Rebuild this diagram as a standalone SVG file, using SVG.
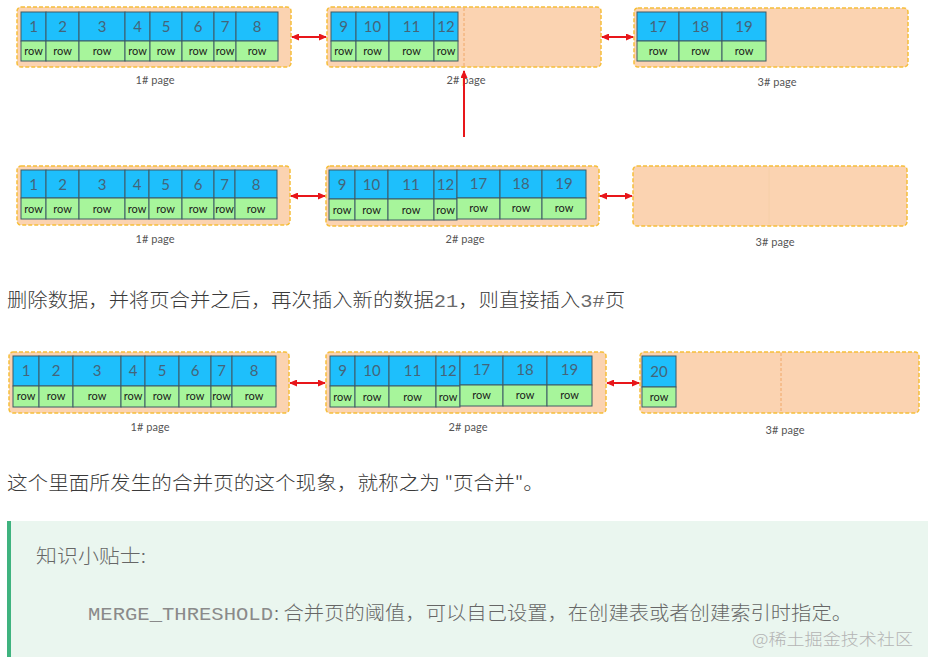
<svg xmlns="http://www.w3.org/2000/svg" width="932" height="664" viewBox="0 0 932 664">
<style>
.page{fill:#fbd3b1;stroke:#f6bf3a;stroke-width:1.5;stroke-dasharray:4 2}
.div{stroke:#f0a868;stroke-width:1;stroke-dasharray:3 2;fill:none}
.divs{stroke:#f6cfa8;stroke-width:1;fill:none}
.b{fill:#1ebffc;stroke:#3e5a66;stroke-width:1}
.g{fill:#a7f59b;stroke:#3e5a66;stroke-width:1}
.n{font-family:Lato,"Open Sans",sans-serif;font-size:15px;fill:#44657a;text-anchor:middle}
.r{font-family:Lato,"Open Sans",sans-serif;font-size:11px;fill:#1a1a1a;text-anchor:middle}
.lbl{font-family:Lato,"Liberation Sans",sans-serif;font-size:11px;fill:#555;text-anchor:middle}
.arr{stroke:#e8161a;stroke-width:2;fill:none;marker-start:url(#ah);marker-end:url(#ah)}
.arr1{stroke:#e8161a;stroke-width:2;fill:none;marker-end:url(#ah)}
.txt{font-family:"Noto Sans CJK SC","Noto Sans",sans-serif;font-size:19px;fill:#3a3a3a;font-weight:300}
.tip{font-family:"Noto Sans CJK SC","Noto Sans",sans-serif;font-size:19px;fill:#666;font-weight:300}
.mono{font-family:"Liberation Mono","DejaVu Sans Mono",monospace;font-weight:400;fill:#6a6a6a}
.monot{font-family:"Liberation Mono","DejaVu Sans Mono",monospace;font-weight:400;fill:#8a8a8a;font-size:18px}
</style>
<defs>
<marker id="ah" viewBox="0 0 8 7" refX="7" refY="3.5" markerUnits="userSpaceOnUse" markerWidth="8" markerHeight="7" orient="auto-start-reverse">
<path d="M0,0 L8,3.5 L0,7 z" fill="#e8161a"/>
</marker>
</defs>
<rect width="932" height="664" fill="#ffffff"/>

<!-- Row 1 -->
<g id="r1p1">
<rect class="page" x="17" y="7" width="274" height="60" rx="4"/>
<rect class="b" x="21" y="12" width="25" height="29"/><rect class="g" x="21" y="41" width="25" height="20"/>
<rect class="b" x="46" y="12" width="33" height="29"/><rect class="g" x="46" y="41" width="33" height="20"/>
<rect class="b" x="79" y="12" width="46" height="29"/><rect class="g" x="79" y="41" width="46" height="20"/>
<rect class="b" x="125" y="12" width="25" height="29"/><rect class="g" x="125" y="41" width="25" height="20"/>
<rect class="b" x="150" y="12" width="32" height="29"/><rect class="g" x="150" y="41" width="32" height="20"/>
<rect class="b" x="182" y="12" width="32" height="29"/><rect class="g" x="182" y="41" width="32" height="20"/>
<rect class="b" x="214" y="12" width="22" height="29"/><rect class="g" x="214" y="41" width="22" height="20"/>
<rect class="b" x="236" y="12" width="42" height="29"/><rect class="g" x="236" y="41" width="42" height="20"/>
<text class="n" x="33.5" y="32">1</text><text class="n" x="62.5" y="32">2</text><text class="n" x="102" y="32">3</text><text class="n" x="137.5" y="32">4</text><text class="n" x="166" y="32">5</text><text class="n" x="198" y="32">6</text><text class="n" x="225" y="32">7</text><text class="n" x="257" y="32">8</text>
<text class="r" x="33.5" y="55">row</text><text class="r" x="62.5" y="55">row</text><text class="r" x="102" y="55">row</text><text class="r" x="137.5" y="55">row</text><text class="r" x="166" y="55">row</text><text class="r" x="198" y="55">row</text><text class="r" x="225" y="55">row</text><text class="r" x="257" y="55">row</text>
<text class="lbl" x="155" y="84" textLength="39">1# page</text>
</g>
<g id="r1p2">
<rect class="page" x="327" y="7" width="274" height="60" rx="4"/>
<line class="div" x1="464" y1="8" x2="464" y2="66"/>
<rect class="b" x="331" y="12" width="25" height="29"/><rect class="g" x="331" y="41" width="25" height="20"/>
<rect class="b" x="356" y="12" width="33" height="29"/><rect class="g" x="356" y="41" width="33" height="20"/>
<rect class="b" x="389" y="12" width="45" height="29"/><rect class="g" x="389" y="41" width="45" height="20"/>
<rect class="b" x="434" y="12" width="24" height="29"/><rect class="g" x="434" y="41" width="24" height="20"/>
<text class="n" x="343.5" y="32">9</text><text class="n" x="372.5" y="32">10</text><text class="n" x="411.5" y="32">11</text><text class="n" x="446" y="32">12</text>
<text class="r" x="343.5" y="55">row</text><text class="r" x="372.5" y="55">row</text><text class="r" x="411.5" y="55">row</text><text class="r" x="446" y="55">row</text>
<text class="lbl" x="466" y="84" textLength="39">2# page</text>
</g>
<g id="r1p3">
<rect class="page" x="634" y="8" width="274" height="59" rx="4"/>
<rect class="b" x="637" y="12" width="42" height="29"/><rect class="g" x="637" y="41" width="42" height="20"/>
<rect class="b" x="679" y="12" width="43" height="29"/><rect class="g" x="679" y="41" width="43" height="20"/>
<rect class="b" x="722" y="12" width="44" height="29"/><rect class="g" x="722" y="41" width="44" height="20"/>
<text class="n" x="658" y="32">17</text><text class="n" x="700.5" y="32">18</text><text class="n" x="744" y="32">19</text>
<text class="r" x="658" y="55">row</text><text class="r" x="700.5" y="55">row</text><text class="r" x="744" y="55">row</text>
<text class="lbl" x="777" y="86" textLength="39">3# page</text>
</g>

<!-- Row 2 -->
<g id="r2p1">
<rect class="page" x="17" y="166" width="273" height="59" rx="4"/>
<rect class="b" x="21" y="170" width="25" height="28"/><rect class="g" x="21" y="198" width="25" height="21"/>
<rect class="b" x="46" y="170" width="33" height="28"/><rect class="g" x="46" y="198" width="33" height="21"/>
<rect class="b" x="79" y="170" width="46" height="28"/><rect class="g" x="79" y="198" width="46" height="21"/>
<rect class="b" x="125" y="170" width="24" height="28"/><rect class="g" x="125" y="198" width="24" height="21"/>
<rect class="b" x="149" y="170" width="33" height="28"/><rect class="g" x="149" y="198" width="33" height="21"/>
<rect class="b" x="182" y="170" width="32" height="28"/><rect class="g" x="182" y="198" width="32" height="21"/>
<rect class="b" x="214" y="170" width="21" height="28"/><rect class="g" x="214" y="198" width="21" height="21"/>
<rect class="b" x="235" y="170" width="42" height="28"/><rect class="g" x="235" y="198" width="42" height="21"/>
<text class="n" x="33.5" y="190">1</text><text class="n" x="62.5" y="190">2</text><text class="n" x="102" y="190">3</text><text class="n" x="137" y="190">4</text><text class="n" x="165.5" y="190">5</text><text class="n" x="198" y="190">6</text><text class="n" x="224.5" y="190">7</text><text class="n" x="256" y="190">8</text>
<text class="r" x="33.5" y="213">row</text><text class="r" x="62.5" y="213">row</text><text class="r" x="102" y="213">row</text><text class="r" x="137" y="213">row</text><text class="r" x="165.5" y="213">row</text><text class="r" x="198" y="213">row</text><text class="r" x="224.5" y="213">row</text><text class="r" x="256" y="213">row</text>
<text class="lbl" x="155" y="243" textLength="39">1# page</text>
</g>
<g id="r2p2">
<rect class="page" x="326" y="166" width="273" height="60" rx="4"/>
<rect class="b" x="329" y="170" width="26" height="29"/><rect class="g" x="329" y="199" width="26" height="21"/>
<rect class="b" x="355" y="170" width="33" height="29"/><rect class="g" x="355" y="199" width="33" height="21"/>
<rect class="b" x="388" y="170" width="46" height="29"/><rect class="g" x="388" y="199" width="46" height="21"/>
<rect class="b" x="434" y="170" width="23" height="29"/><rect class="g" x="434" y="199" width="23" height="21"/>
<rect class="b" x="457" y="170" width="43" height="28"/><rect class="g" x="457" y="198" width="43" height="21"/>
<rect class="b" x="500" y="170" width="42" height="28"/><rect class="g" x="500" y="198" width="42" height="21"/>
<rect class="b" x="542" y="170" width="44" height="28"/><rect class="g" x="542" y="198" width="44" height="21"/>
<text class="n" x="342" y="190">9</text><text class="n" x="371.5" y="190">10</text><text class="n" x="411" y="190">11</text><text class="n" x="445.5" y="190">12</text><text class="n" x="478.5" y="189">17</text><text class="n" x="521" y="189">18</text><text class="n" x="564" y="189">19</text>
<text class="r" x="342" y="214">row</text><text class="r" x="371.5" y="214">row</text><text class="r" x="411" y="214">row</text><text class="r" x="445.5" y="214">row</text><text class="r" x="478.5" y="212">row</text><text class="r" x="521" y="212">row</text><text class="r" x="564" y="212">row</text>
<text class="lbl" x="465" y="243" textLength="39">2# page</text>
</g>
<g id="r2p3">
<rect class="page" x="633" y="166" width="274" height="60" rx="4"/>
<line class="divs" x1="769" y1="168" x2="769" y2="224"/>
<text class="lbl" x="775" y="246" textLength="39">3# page</text>
</g>

<!-- Row 3 -->
<g id="r3p1">
<rect class="page" x="9" y="352" width="280" height="61" rx="4"/>
<rect class="b" x="13" y="356" width="26" height="30"/><rect class="g" x="13" y="386" width="26" height="21"/>
<rect class="b" x="39" y="356" width="34" height="30"/><rect class="g" x="39" y="386" width="34" height="21"/>
<rect class="b" x="73" y="356" width="48" height="30"/><rect class="g" x="73" y="386" width="48" height="21"/>
<rect class="b" x="121" y="356" width="24" height="30"/><rect class="g" x="121" y="386" width="24" height="21"/>
<rect class="b" x="145" y="356" width="34" height="30"/><rect class="g" x="145" y="386" width="34" height="21"/>
<rect class="b" x="179" y="356" width="32" height="30"/><rect class="g" x="179" y="386" width="32" height="21"/>
<rect class="b" x="211" y="356" width="21" height="30"/><rect class="g" x="211" y="386" width="21" height="21"/>
<rect class="b" x="232" y="356" width="44" height="30"/><rect class="g" x="232" y="386" width="44" height="21"/>
<text class="n" x="26" y="376">1</text><text class="n" x="56" y="376">2</text><text class="n" x="97" y="376">3</text><text class="n" x="133" y="376">4</text><text class="n" x="162" y="376">5</text><text class="n" x="195" y="376">6</text><text class="n" x="221.5" y="376">7</text><text class="n" x="254" y="376">8</text>
<text class="r" x="26" y="400">row</text><text class="r" x="56" y="400">row</text><text class="r" x="97" y="400">row</text><text class="r" x="133" y="400">row</text><text class="r" x="162" y="400">row</text><text class="r" x="195" y="400">row</text><text class="r" x="221.5" y="400">row</text><text class="r" x="254" y="400">row</text>
<text class="lbl" x="150" y="431" textLength="39">1# page</text>
</g>
<g id="r3p2">
<rect class="page" x="326" y="352" width="280" height="61" rx="4"/>
<rect class="b" x="330" y="356" width="25" height="30"/><rect class="g" x="330" y="386" width="25" height="21"/>
<rect class="b" x="355" y="356" width="34" height="30"/><rect class="g" x="355" y="386" width="34" height="21"/>
<rect class="b" x="389" y="356" width="47" height="30"/><rect class="g" x="389" y="386" width="47" height="21"/>
<rect class="b" x="436" y="356" width="24" height="30"/><rect class="g" x="436" y="386" width="24" height="21"/>
<rect class="b" x="460" y="356" width="43" height="29"/><rect class="g" x="460" y="385" width="43" height="21"/>
<rect class="b" x="503" y="356" width="44" height="29"/><rect class="g" x="503" y="385" width="44" height="21"/>
<rect class="b" x="547" y="356" width="45" height="29"/><rect class="g" x="547" y="385" width="45" height="21"/>
<text class="n" x="342.5" y="376">9</text><text class="n" x="372" y="376">10</text><text class="n" x="412.5" y="376">11</text><text class="n" x="448" y="376">12</text><text class="n" x="481.5" y="375">17</text><text class="n" x="525" y="375">18</text><text class="n" x="569.5" y="375">19</text>
<text class="r" x="342.5" y="401">row</text><text class="r" x="372" y="401">row</text><text class="r" x="412.5" y="401">row</text><text class="r" x="448" y="401">row</text><text class="r" x="481.5" y="399">row</text><text class="r" x="525" y="399">row</text><text class="r" x="569.5" y="399">row</text>
<text class="lbl" x="468" y="431" textLength="39">2# page</text>
</g>
<g id="r3p3">
<rect class="page" x="640" y="352" width="279" height="61" rx="4"/>
<line class="div" x1="781" y1="353" x2="781" y2="412"/>
<rect class="b" x="642" y="356" width="34" height="31"/><rect class="g" x="642" y="387" width="34" height="20"/>
<text class="n" x="659" y="377">20</text>
<text class="r" x="659" y="401">row</text>
<text class="lbl" x="785" y="434" textLength="39">3# page</text>
</g>

<g id="connectors">
<line class="arr" x1="292" y1="37" x2="326" y2="37"/>
<line class="arr" x1="602" y1="37" x2="633" y2="37"/>
<line class="arr1" x1="464" y1="137" x2="464" y2="71"/>
<line class="arr" x1="291" y1="196" x2="325" y2="196"/>
<line class="arr" x1="600" y1="196" x2="632" y2="196"/>
<line class="arr" x1="290" y1="383" x2="325" y2="383"/>
<line class="arr" x1="607" y1="383" x2="639" y2="383"/>
</g>

<text class="txt" x="7" y="307" textLength="618" lengthAdjust="spacingAndGlyphs">删除数据，并将页合并之后，再次插入新的数据<tspan class="mono">21</tspan>，则直接插入<tspan class="mono">3#</tspan>页</text>
<text class="txt" x="7" y="490" textLength="537" lengthAdjust="spacingAndGlyphs">这个里面所发生的合并页的这个现象，就称之为 "页合并"。</text>

<g id="tip">
<rect x="7" y="521" width="921" height="136" fill="#eaf6ef"/>
<rect x="7" y="521" width="4" height="136" fill="#3fb37f"/>
<text class="tip" x="36" y="563" textLength="110" lengthAdjust="spacingAndGlyphs">知识小贴士:</text>
<text class="monot" x="88" y="620" textLength="185" lengthAdjust="spacingAndGlyphs">MERGE_THRESHOLD</text>
<text class="tip" x="274" y="620" textLength="578" lengthAdjust="spacingAndGlyphs">: 合并页的阈值，可以自己设置，在创建表或者创建索引时指定。</text>
<text x="752" y="645" font-family="'Noto Sans CJK SC',sans-serif" font-size="16" font-weight="300" fill="#b4b4b4" textLength="161" lengthAdjust="spacingAndGlyphs">@稀土掘金技术社区</text>
</g>
</svg>
